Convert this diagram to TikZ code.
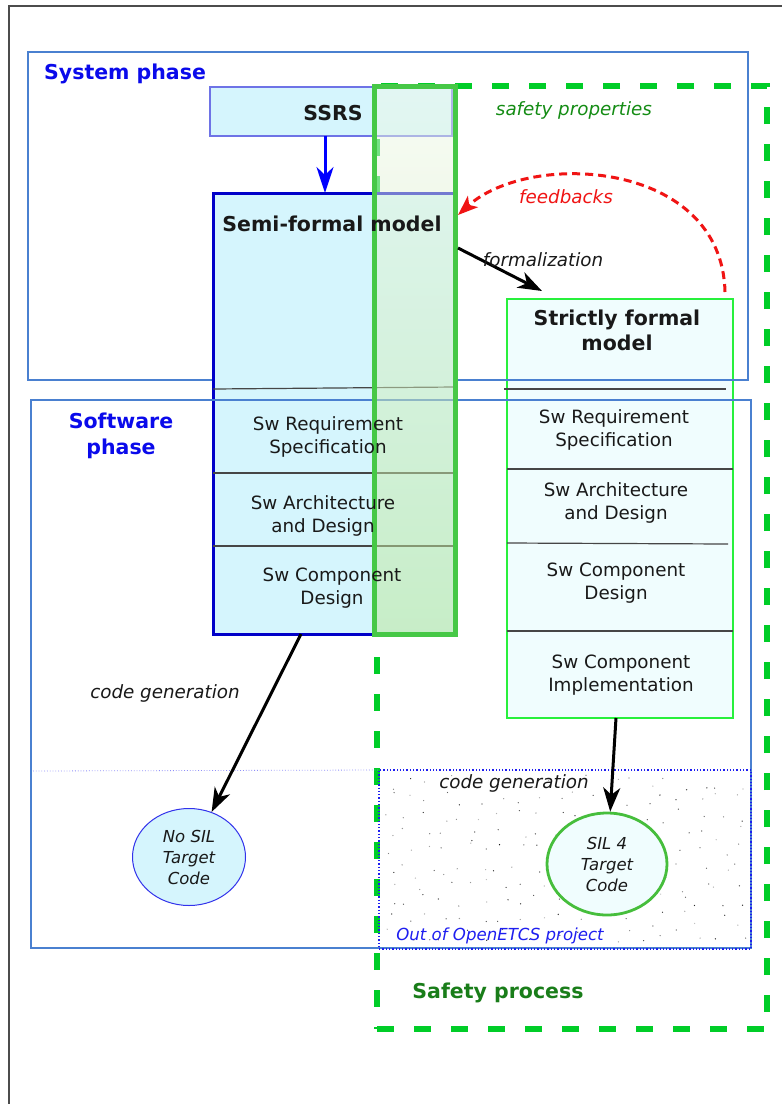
\documentclass[tikz,border=0pt]{standalone}
\usepackage{fontspec}
\setmainfont{DejaVu Sans}[ItalicFont={DejaVu Sans Oblique},BoldFont={DejaVu Sans Bold},BoldItalicFont={DejaVu Sans Bold Oblique}]
\usetikzlibrary{arrows.meta,shapes.geometric}
\definecolor{phaseb}{RGB}{74,128,208}
\definecolor{lblue}{RGB}{10,10,235}
\definecolor{cyanf}{RGB}{213,245,253}
\definecolor{ssrsb}{RGB}{110,115,230}
\definecolor{semib}{RGB}{0,0,200}
\definecolor{colg}{RGB}{70,200,70}
\definecolor{dashg}{RGB}{0,205,40}
\definecolor{strictb}{RGB}{40,240,60}
\definecolor{strictf}{RGB}{240,253,254}
\definecolor{propg}{RGB}{20,140,20}
\definecolor{procg}{RGB}{25,125,25}
\definecolor{fbred}{RGB}{240,20,20}
\definecolor{txt}{RGB}{25,25,25}
\definecolor{divl}{RGB}{70,70,70}
\definecolor{silg}{RGB}{70,190,60}
\definecolor{nosilb}{RGB}{50,50,235}
\definecolor{colt}{RGB}{240,248,235}
\definecolor{colb}{RGB}{187,231,147}
\definecolor{oopb}{RGB}{30,30,240}
\tikzset{
  titlef/.style={font=\fontsize{20.5}{25}\selectfont\bfseries, inner sep=0},
  swtext/.style={font=\fontsize{18.3}{23.5}\selectfont, text=txt, align=center, inner sep=0},
  itl/.style={font=\fontsize{18.3}{22}\selectfont\itshape, inner sep=0},
  elltext/.style={font=\fontsize{16.5}{21}\selectfont\itshape, text=txt, align=center, inner sep=0},
  boxn/.style={anchor=north west, inner sep=0, outer sep=0},
  phasebox/.style={boxn, draw=phaseb, line width=2.5pt},
  divider/.style={divl, line width=1.2pt},
  arr/.style={line width=3pt, -{Stealth[length=24pt,width=17pt,inset=7pt]}},
}
\begin{document}
\begin{tikzpicture}[x=1pt,y=-1pt]
\useasboundingbox (0,0) rectangle (782,1104);
\fill[white] (0,0) rectangle (782,1104);
\draw[line width=1.2pt, black!70] (9,1104) -- (9,6) -- (782,6);

% safety process dashed frame
\node[boxn, draw=dashg, line width=6pt, dash pattern=on 17pt off 20pt,
      minimum width=390pt, minimum height=943pt] (safety) at (377,86) {};

% strictly formal model
\node[boxn, draw=strictb, fill=strictf, line width=2pt,
      minimum width=226pt, minimum height=419pt] (strict) at (507,299) {};
\draw[divider] (504,389) -- (726,389);
\draw[divider] (507,469) -- (733,469);
\draw[divider] (507,543) -- (728,544);
\draw[divider] (507,631) -- (733,631);

% system phase
\node[phasebox, minimum width=720pt, minimum height=328pt] (sys) at (28,52) {};

% SSRS
\node[boxn, draw=ssrsb, fill=cyanf, line width=1.2pt,
      minimum width=242pt, minimum height=49pt] (ssrs) at (210,87) {};

% semi-formal model
\node[boxn, draw=semib, fill=cyanf, line width=3pt,
      minimum width=242pt, minimum height=441pt] (semi) at (213,193) {};
\draw[divider] (213,389) -- (455,387);
\draw[divider] (213,473) -- (455,473);
\draw[divider] (213,546) -- (455,546);

% software phase
\node[phasebox, minimum width=720pt, minimum height=548pt] (sw) at (31,400) {};

% out of OpenETCS area: scattered dots
\pgfmathsetseed{11}
\foreach \gx in {0,...,19}{
  \foreach \gy in {0,...,9}{
    \pgfmathsetmacro\dx{383+\gx*18.3+rnd*16}
    \pgfmathsetmacro\dy{775+\gy*17+rnd*15}
    \pgfmathsetmacro\dk{25+rnd*75}
    \fill[black!\dk] (\dx,\dy) circle (0.65pt);
  }
}
\node[boxn, draw=oopb, dotted, line width=1.3pt,
      minimum width=372pt, minimum height=179pt] (oop) at (379,770) {};
\coordinate (dl) at (33,771);
\draw[oopb!50, dotted, line width=0.8pt] (dl) -- (oop.north west);

% ellipses
\node[ellipse, draw=nosilb, fill=cyanf, line width=1pt, minimum width=113pt,
      minimum height=97pt, elltext] (nosil) at (189,857) {No SIL\\Target\\Code};
\node[ellipse, draw=silg, fill=strictf, line width=2.8pt, minimum width=120pt,
      minimum height=102pt, elltext] (sil4) at (607,864) {SIL 4\\Target\\Code};

% safety properties column
\path[top color=colt, bottom color=colb, fill opacity=0.5] (374,86) rectangle (455,634);
\node[boxn, draw=colg, line width=5pt, minimum width=81pt, minimum height=548pt] (col) at (374,86) {};

% arrows
\coordinate (ax) at (325,0);
\draw[blue, line width=3pt, -{Stealth[length=26pt,width=17pt,inset=8pt]}] (ax |- ssrs.south) -- (ax |- semi.north);
\draw[arr] ([xshift=3pt,yshift=-55pt]semi.north east) -- ([xshift=35pt,yshift=8pt]strict.north west);
\draw[arr] ([xshift=88pt]semi.south west) -- (nosil);
\draw[arr] ([xshift=109pt]strict.south west) -- (sil4);
\draw[fbred, line width=3pt, dash pattern=on 8pt off 5pt, -{Stealth[length=20pt,width=15pt,inset=5pt]}]
  ([xshift=-8pt,yshift=7pt]strict.north east) .. controls +(-3pt,132pt) and +(72pt,65pt) .. ([xshift=3pt,yshift=-22pt]semi.north east);

% texts
\node[titlef, text=lblue, anchor=west] (tsys) at (44,74) {System phase};
\node[titlef, text=lblue, align=center, font=\fontsize{20.5}{26}\selectfont\bfseries] (tsw) at (121,436) {Software\\phase};
\node[titlef, text=txt] (tssrs) at (333,113) {SSRS};
\node[titlef, text=txt] (tsemi) at (332,224) {Semi-formal model};
\node[titlef, text=txt, align=center] (tstrict) at (617,330) {Strictly formal\\model};
\node[itl, text=propg] (tprop) at (574,110) {safety properties};
\node[itl, text=fbred] (tfb) at (566,197) {feedbacks};
\node[itl, text=txt] (tform) at (543,260) {formalization};
\node[itl, text=txt] (tcg1) at (165,693) {code generation};
\node[itl, text=txt] (tcg2) at (514,783) {code generation};
\node[itl, text=oopb, font=\fontsize{16.6}{20}\selectfont\itshape] (toop) at (500,936) {Out of OpenETCS project};
\node[titlef, text=procg] (tproc) at (498,993) {Safety process};

\node[swtext] (s1) at (328,437) {Sw Requirement\\Specification};
\node[swtext] (s2) at (323,516) {Sw Architecture\\and Design};
\node[swtext] (s3) at (332,588) {Sw Component\\Design};
\node[swtext] (r1) at (614,430) {Sw Requirement\\Specification};
\node[swtext] (r2) at (616,503) {Sw Architecture\\and Design};
\node[swtext] (r3) at (616,583) {Sw Component\\Design};
\node[swtext] (r4) at (621,675) {Sw Component\\Implementation};
\end{tikzpicture}
\end{document}
